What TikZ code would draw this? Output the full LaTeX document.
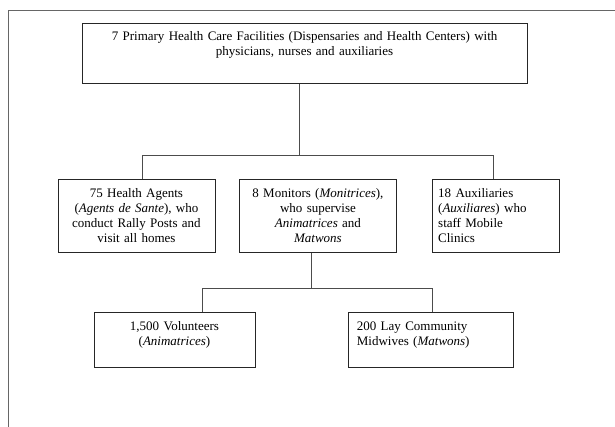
\documentclass[tikz,border=0pt]{standalone}
\usepackage{fontspec}
\setmainfont{Liberation Serif}
\begin{document}
\begin{tikzpicture}[x=1pt,y=-1pt,
  box/.style={draw=black!85, line width=0.9pt, rectangle, inner sep=0pt, anchor=north west},
  ctxt/.style={inner sep=0pt, align=center, anchor=base, font=\fontsize{13}{15.2}\selectfont},
  ltxt/.style={inner sep=0pt, align=left, anchor=base west, font=\fontsize{13}{15.2}\selectfont},
  conn/.style={draw=black!70, line width=0.9pt},
  frame/.style={draw=black!60, line width=0.9pt}]
\useasboundingbox (0,0) rectangle (615,427);
% frame
\coordinate (fb) at (8.7,432);
\coordinate (ft) at (8.7,10.7);
\coordinate (fr) at (620,10.7);
\draw[frame] (fb) -- (ft) -- (fr);
% boxes
\node[box, minimum width=444.8pt, minimum height=60pt] (top) at (81.7,22.7) {};
\node[box, minimum width=157pt, minimum height=73pt] (a) at (57.5,179.3) {};
\node[box, minimum width=157pt, minimum height=73pt] (b) at (239,179.3) {};
\node[box, minimum width=127pt, minimum height=73pt] (c) at (432,179.3) {};
\node[box, minimum width=161pt, minimum height=54.4pt] (d) at (93.5,312.3) {};
\node[box, minimum width=165pt, minimum height=54.4pt] (e) at (347.7,312.3) {};
% texts
\node[ctxt, text width=430pt] (toptxt) at ([yshift=-17.5pt]top.north) {7 Primary Health Care Facilities (Dispensaries and Health Centers) with\\physicians, nurses and auxiliaries};
\node[ctxt, text width=150pt] (atxt) at ([yshift=-18pt]a.north) {75 Health Agents\\(\textit{Agents de Sante}), who\\conduct Rally Posts and\\visit all homes};
\node[ctxt, text width=150pt] (btxt) at ([yshift=-18pt]b.north) {8 Monitors (\textit{Monitrices}),\\who supervise\\\textit{Animatrices} and\\\textit{Matwons}};
\node[ltxt, text width=118pt] (ctxt) at ([xshift=6pt,yshift=-18pt]c.north west) {18 Auxiliaries\\(\textit{Auxiliares}) who\\staff Mobile\\Clinics};
\node[ctxt, text width=150pt] (dtxt) at ([yshift=-18pt]d.north) {1,500 Volunteers\\(\textit{Animatrices})};
\node[ltxt, text width=150pt] (etxt) at ([xshift=9pt,yshift=-18pt]e.north west) {200 Lay Community\\Midwives (\textit{Matwons})};
% connectors
\coordinate (j1) at (299.4,155);
\coordinate (hl) at (142,155);
\coordinate (hr) at (493,155);
\draw[conn] (top.south -| j1) -- (j1);
\draw[conn] (a.north -| hl) -- (hl) -- (hr) -- (c.north -| hr);
\coordinate (j2) at (311.6,288.3);
\coordinate (gl) at (202.7,288.3);
\coordinate (gr) at (432,288.3);
\draw[conn] (b.south -| j2) -- (j2);
\draw[conn] (d.north -| gl) -- (gl) -- (gr) -- (e.north -| gr);
\end{tikzpicture}
\end{document}
